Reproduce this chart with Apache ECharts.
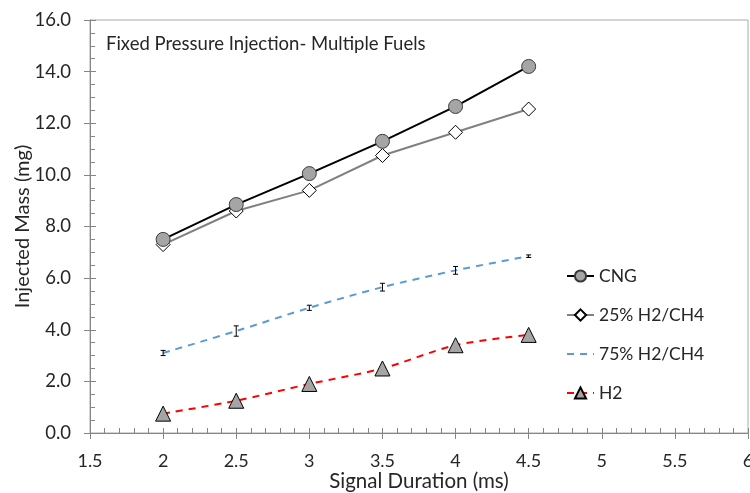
<!DOCTYPE html>
<html>
<head>
<meta charset="utf-8">
<script src="https://cdn.jsdelivr.net/npm/echarts@6/dist/echarts.min.js"></script>
<style>
html,body{margin:0;padding:0;background:#fff;}
#chart{width:750px;height:493px;}
</style>
</head>
<body>
<div id="chart"></div>
<script>
// Signal duration (ms)
const durations = [2, 2.5, 3, 3.5, 4, 4.5];
// Injected mass (mg) per fuel
const cng = [7.5, 8.85, 10.05, 11.3, 12.65, 14.2];
const h2ch4_25 = [7.3, 8.6, 9.4, 10.75, 11.65, 12.55];
const h2ch4_75 = [3.1, 3.95, 4.85, 5.65, 6.3, 6.85];
const h2ch4_75Err = [0.1, 0.2, 0.1, 0.15, 0.15, 0.05];
const h2 = [0.75, 1.25, 1.9, 2.5, 3.4, 3.8];

const pairs = (ys) => durations.map((x, i) => [x, ys[i]]);
const errRows = durations.map((x, i) => [x, h2ch4_75[i] - h2ch4_75Err[i], h2ch4_75[i] + h2ch4_75Err[i]]);

const font = 'Lato, "Open Sans", sans-serif';
const axisGray = '#868686';
const textCol = '#262626';

const chart = echarts.init(document.getElementById('chart'));
chart.setOption({
  animation: false,
  grid: {
    left: 90, right: 2, top: 20, bottom: 60,
    outerBoundsMode: 'none', containLabel: false,
    show: true, borderColor: '#a8a8a8', borderWidth: 1
  },
  title: {
    text: 'Fixed Pressure Injection- Multiple Fuels',
    left: 101, top: 30,
    textStyle: { fontFamily: font, fontSize: 18.5, fontWeight: 'normal', color: textCol }
  },
  legend: {
    orient: 'vertical',
    left: 561, top: 262,
    itemWidth: 27, itemHeight: 14, itemGap: 21,
    textStyle: { fontFamily: font, fontSize: 17.5, color: textCol },
    data: [
      'CNG',
      '25% H2/CH4',
      { name: '75% H2/CH4', itemStyle: { opacity: 0 } },
      'H2'
    ]
  },
  xAxis: [{
    type: 'value', min: 1.5, max: 6, interval: 0.5,
    name: 'Signal Duration (ms)', nameLocation: 'middle', nameGap: 38, nameMoveOverlap: false,
    nameTextStyle: { fontFamily: font, fontSize: 20.5, color: textCol },
    axisLine: { lineStyle: { color: axisGray } },
    axisTick: { inside: true, length: 5, lineStyle: { color: axisGray } },
    minorTick: { show: true, splitNumber: 5, length: 5, lineStyle: { color: axisGray } },
    axisLabel: { fontFamily: font, fontSize: 18, color: textCol, margin: 19 },
    splitLine: { show: false }
  }, {
    type: 'value', min: 1.5, max: 6, interval: 0.5, position: 'bottom',
    axisLine: { show: false },
    axisTick: { inside: false, length: 6, lineStyle: { color: axisGray } },
    axisLabel: { show: false }, splitLine: { show: false }
  }],
  yAxis: [{
    type: 'value', min: 0, max: 16, interval: 2,
    name: 'Injected Mass (mg)', nameLocation: 'middle', nameGap: 57, nameMoveOverlap: false,
    nameTextStyle: { fontFamily: font, fontSize: 20, color: textCol },
    axisLine: { show: true, lineStyle: { color: axisGray } },
    axisTick: { show: true, inside: true, length: 6, lineStyle: { color: axisGray } },
    minorTick: { show: true, splitNumber: 4, length: 5, lineStyle: { color: axisGray } },
    axisLabel: { fontFamily: font, fontSize: 18.5, color: textCol, margin: 19, formatter: v => v.toFixed(1) },
    splitLine: { show: false }
  }, {
    type: 'value', min: 0, max: 16, interval: 2, position: 'left',
    axisLine: { show: false },
    axisTick: { show: true, inside: false, length: 6, lineStyle: { color: axisGray } },
    axisLabel: { show: false }, splitLine: { show: false }
  }],
  series: [
    {
      name: 'CNG', type: 'line', data: pairs(cng),
      symbol: 'circle', symbolSize: 14,
      lineStyle: { color: '#000', width: 2 },
      itemStyle: { color: '#a5a5a5', borderColor: '#3a3a3a', borderWidth: 1 },
      z: 4
    },
    {
      name: '25% H2/CH4', type: 'line', data: pairs(h2ch4_25),
      symbol: 'diamond', symbolSize: 14,
      lineStyle: { color: '#808080', width: 2 },
      itemStyle: { color: '#fff', borderColor: '#000', borderWidth: 1 },
      z: 3
    },
    {
      name: '75% H2/CH4', type: 'line', data: pairs(h2ch4_75),
      symbol: 'none', smooth: 0.3,
      lineStyle: { color: '#5b9bd5', width: 2, type: [7, 6] },
      itemStyle: { color: '#5b9bd5' },
      z: 2
    },
    {
      name: 'H2', type: 'line', data: pairs(h2),
      symbol: 'triangle', symbolSize: 15, smooth: 0.3,
      lineStyle: { color: '#ff0000', width: 2, type: [7, 6] },
      itemStyle: { color: '#a5a5a5', borderColor: '#000', borderWidth: 1 },
      z: 3
    },
    {
      name: 'err75', type: 'custom', data: errRows, z: 5,
      renderItem: (params, api) => {
        const x = api.value(0);
        const lo = api.coord([x, api.value(1)]);
        const hi = api.coord([x, api.value(2)]);
        const cap = 2.5;
        const st = { stroke: '#000', lineWidth: 1 };
        return {
          type: 'group',
          children: [
            { type: 'line', shape: { x1: lo[0], y1: lo[1], x2: hi[0], y2: hi[1] }, style: st },
            { type: 'line', shape: { x1: lo[0] - cap, y1: lo[1], x2: lo[0] + cap, y2: lo[1] }, style: st },
            { type: 'line', shape: { x1: hi[0] - cap, y1: hi[1], x2: hi[0] + cap, y2: hi[1] }, style: st }
          ]
        };
      }
    }
  ]
});
</script>
</body>
</html>
